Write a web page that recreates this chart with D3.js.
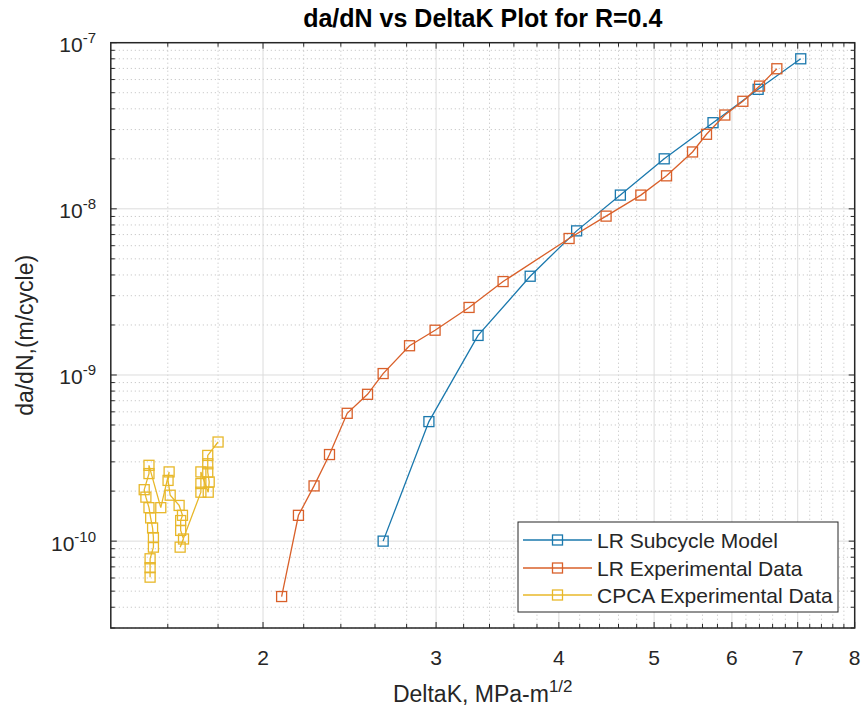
<!DOCTYPE html>
<html><head><meta charset="utf-8">
<script src="https://cdn.jsdelivr.net/npm/d3@7"></script>
<style>
body{margin:0;background:#fff;}
svg{display:block;font-family:"Liberation Sans",Arial,Helvetica,sans-serif;}
</style>
</head><body>
<svg id="chart" width="865" height="713"></svg>
<script>
// ---------------- data ----------------
const seriesNames = ["LR Subcycle Model", "LR Experimental Data", "CPCA Experimental Data"];

const subcycleDK   = [2.65, 2.95, 3.31, 3.74, 4.17, 4.62, 5.12, 5.74, 6.38, 7.05];
const subcycleRate = [1.0e-10, 5.24e-10, 1.73e-9, 3.93e-9, 7.37e-9, 1.21e-8, 2.0e-8, 3.30e-8, 5.24e-8, 8.0e-8];

const lrExpDK   = [2.089, 2.173, 2.254, 2.337, 2.436, 2.555, 2.650, 2.819, 2.993, 3.241, 3.510,
                   4.097, 4.468, 4.847, 5.148, 5.471, 5.653, 5.901, 6.156, 6.401, 6.666];
const lrExpRate = [4.64e-11, 1.43e-10, 2.15e-10, 3.32e-10, 5.88e-10, 7.65e-10, 1.02e-9, 1.50e-9, 1.86e-9, 2.55e-9, 3.65e-9,
                   6.63e-9, 9.04e-9, 1.21e-8, 1.58e-8, 2.20e-8, 2.81e-8, 3.67e-8, 4.44e-8, 5.48e-8, 6.97e-8];

const cpcaDK   = [1.535, 1.535, 1.535, 1.547, 1.547, 1.544, 1.537, 1.531, 1.520, 1.514, 1.531, 1.531,
                  1.574, 1.605, 1.601, 1.609, 1.643, 1.656, 1.649, 1.649, 1.660, 1.647,
                  1.729, 1.729, 1.729, 1.759, 1.763, 1.757, 1.757, 1.757, 1.800];
const cpcaRate = [6.07e-11, 6.92e-11, 7.83e-11, 9.2e-11, 1.05e-10, 1.20e-10, 1.38e-10, 1.59e-10, 1.84e-10, 2.04e-10, 2.55e-10, 2.86e-10,
                  1.59e-10, 2.61e-10, 2.32e-10, 1.89e-10, 1.64e-10, 1.43e-10, 1.33e-10, 1.16e-10, 1.03e-10, 9.2e-11,
                  1.97e-10, 2.22e-10, 2.61e-10, 1.97e-10, 2.27e-10, 2.60e-10, 2.92e-10, 3.28e-10, 3.95e-10];

const xTickValues = [2, 3, 4, 5, 6, 7, 8];
const yTickExponents = [-10, -9, -8, -7];

const titleText = "da/dN vs DeltaK Plot for R=0.4";
const xLabelText = "DeltaK, MPa-m";
const xLabelSup = "1/2";
const yLabelText = "da/dN,(m/cycle)";

// ---------------- layout ----------------
const colors = ["#1a78ad", "#d9602a", "#e8b82a"];
const axisColor = "#262626";
const plot = {left: 110.8, right: 854.7, top: 42.7, bottom: 628};

const svg = d3.select("#chart");
const x = d3.scaleLog().domain([1.4, 8]).range([plot.left, plot.right]);
const y = d3.scaleLog().domain([3e-11, 1e-7]).range([plot.bottom, plot.top]);

const xMinor = d3.range(16, 80, 2).map(v => v / 10).filter(v => v > 1.4 && Math.abs(v - Math.round(v)) > 1e-6);
const yMajor = yTickExponents.map(e => Math.pow(10, e));
const yMinor = y.ticks().filter(v => !yMajor.some(m => Math.abs(Math.log10(v) - Math.log10(m)) < 1e-6));

// background
svg.append("rect").attr("x", 0).attr("y", 0).attr("width", 865).attr("height", 713).attr("fill", "#fff");

const grid = svg.append("g");
// minor grid
grid.selectAll(".xm").data(xMinor).join("line")
  .attr("x1", d => x(d)).attr("x2", d => x(d)).attr("y1", plot.top).attr("y2", plot.bottom)
  .attr("stroke", "#bdbdbd").attr("stroke-width", 1).attr("stroke-dasharray", "1,3");
grid.selectAll(".ym").data(yMinor).join("line")
  .attr("y1", d => y(d)).attr("y2", d => y(d)).attr("x1", plot.left).attr("x2", plot.right)
  .attr("stroke", "#bdbdbd").attr("stroke-width", 1).attr("stroke-dasharray", "1,3");
// major grid
grid.selectAll(".xM").data(xTickValues).join("line")
  .attr("x1", d => x(d)).attr("x2", d => x(d)).attr("y1", plot.top).attr("y2", plot.bottom)
  .attr("stroke", "#dcdcdc").attr("stroke-width", 1);
grid.selectAll(".yM").data(yMajor).join("line")
  .attr("y1", d => y(d)).attr("y2", d => y(d)).attr("x1", plot.left).attr("x2", plot.right)
  .attr("stroke", "#dcdcdc").attr("stroke-width", 1);

// series
const series = [
  {dk: subcycleDK, rate: subcycleRate},
  {dk: lrExpDK, rate: lrExpRate},
  {dk: cpcaDK, rate: cpcaRate}
];
const line = d3.line().x(d => x(d[0])).y(d => y(d[1]));
const ms = 10;
series.forEach((s, i) => {
  const pts = s.dk.map((v, j) => [v, s.rate[j]]);
  const g = svg.append("g");
  g.append("path").datum(pts).attr("d", line)
    .attr("fill", "none").attr("stroke", colors[i]).attr("stroke-width", 1.3);
  g.selectAll("rect").data(pts).join("rect")
    .attr("x", d => x(d[0]) - ms / 2).attr("y", d => y(d[1]) - ms / 2)
    .attr("width", ms).attr("height", ms)
    .attr("fill", "none").attr("stroke", colors[i]).attr("stroke-width", 1.3);
});

// axes box and ticks
const ax = svg.append("g");
const tl = 6, tlm = 4;
xTickValues.forEach(v => {
  ax.append("line").attr("x1", x(v)).attr("x2", x(v)).attr("y1", plot.bottom).attr("y2", plot.bottom - tl).attr("stroke", axisColor);
  ax.append("line").attr("x1", x(v)).attr("x2", x(v)).attr("y1", plot.top).attr("y2", plot.top + tl).attr("stroke", axisColor);
});
xMinor.forEach(v => {
  ax.append("line").attr("x1", x(v)).attr("x2", x(v)).attr("y1", plot.bottom).attr("y2", plot.bottom - tlm).attr("stroke", axisColor);
  ax.append("line").attr("x1", x(v)).attr("x2", x(v)).attr("y1", plot.top).attr("y2", plot.top + tlm).attr("stroke", axisColor);
});
yMajor.forEach(v => {
  ax.append("line").attr("y1", y(v)).attr("y2", y(v)).attr("x1", plot.left).attr("x2", plot.left + tl).attr("stroke", axisColor);
  ax.append("line").attr("y1", y(v)).attr("y2", y(v)).attr("x1", plot.right).attr("x2", plot.right - tl).attr("stroke", axisColor);
});
yMinor.forEach(v => {
  ax.append("line").attr("y1", y(v)).attr("y2", y(v)).attr("x1", plot.left).attr("x2", plot.left + tlm).attr("stroke", axisColor);
  ax.append("line").attr("y1", y(v)).attr("y2", y(v)).attr("x1", plot.right).attr("x2", plot.right - tlm).attr("stroke", axisColor);
});
ax.append("rect").attr("x", plot.left).attr("y", plot.top)
  .attr("width", plot.right - plot.left).attr("height", plot.bottom - plot.top)
  .attr("fill", "none").attr("stroke", axisColor).attr("stroke-width", 1.5);

// x tick labels
svg.append("g").selectAll("text").data(xTickValues).join("text")
  .attr("x", d => x(d)).attr("y", 665)
  .attr("text-anchor", "middle").attr("font-size", 21).attr("fill", axisColor)
  .text(d => d);

// y tick labels
const yl = svg.append("g");
yTickExponents.forEach(e => {
  const t = yl.append("text").attr("x", 96).attr("y", y(Math.pow(10, e)) + 9.5)
    .attr("text-anchor", "end").attr("font-size", 21).attr("fill", axisColor);
  t.append("tspan").text("10");
  t.append("tspan").attr("dy", -9).attr("font-size", 15).text("-" + Math.abs(e));
});

// title
svg.append("text").attr("x", (plot.left + plot.right) / 2).attr("y", 27)
  .attr("text-anchor", "middle").attr("font-size", 25).attr("font-weight", "bold").attr("fill", "#000")
  .text(titleText);

// x label
const xl = svg.append("text").attr("x", (plot.left + plot.right) / 2).attr("y", 702)
  .attr("text-anchor", "middle").attr("font-size", 23).attr("fill", axisColor);
xl.append("tspan").text(xLabelText);
xl.append("tspan").attr("dy", -10).attr("font-size", 17).text(xLabelSup);

// y label
svg.append("text").attr("transform", `translate(33,${(plot.top + plot.bottom) / 2}) rotate(-90)`)
  .attr("text-anchor", "middle").attr("font-size", 23).attr("fill", axisColor)
  .text(yLabelText);

// legend
const lg = svg.append("g");
lg.append("rect").attr("x", 518).attr("y", 522).attr("width", 320).attr("height", 90)
  .attr("fill", "#fff").attr("stroke", axisColor).attr("stroke-width", 1);
const rowsY = [540, 568, 595];
seriesNames.forEach((name, i) => {
  const ry = rowsY[i];
  lg.append("line").attr("x1", 523).attr("x2", 592).attr("y1", ry).attr("y2", ry)
    .attr("stroke", colors[i]).attr("stroke-width", 1.3);
  lg.append("rect").attr("x", 557.5 - ms / 2).attr("y", ry - ms / 2).attr("width", ms).attr("height", ms)
    .attr("fill", "none").attr("stroke", colors[i]).attr("stroke-width", 1.3);
  lg.append("text").attr("x", 597).attr("y", ry).attr("dy", "0.36em")
    .attr("font-size", 21).attr("fill", axisColor).text(name);
});
</script>
</body></html>
